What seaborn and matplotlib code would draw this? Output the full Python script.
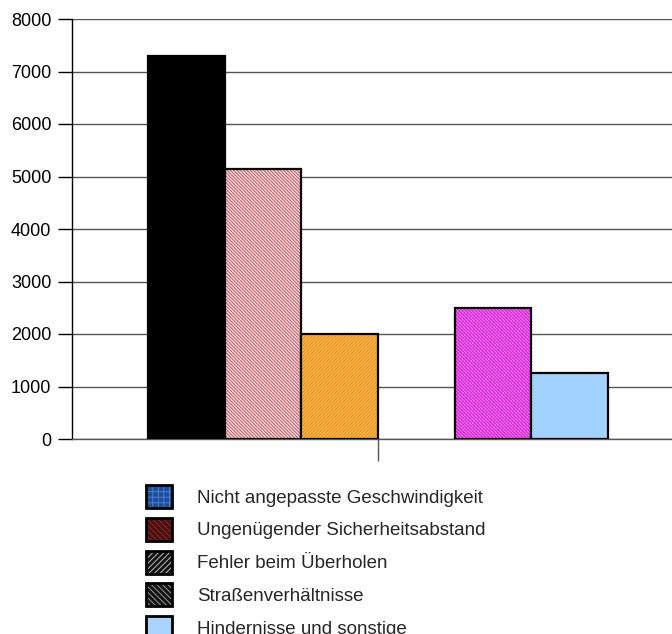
import matplotlib
matplotlib.use('Agg')
import matplotlib.pyplot as plt
import seaborn as sns
import pandas as pd
from matplotlib.patches import Patch
from matplotlib.colors import to_rgba

# Daten
balken = ['A1', 'A2', 'A3', 'B1', 'B2']
werte = [7300, 5150, 2000, 2500, 1260]
# Reihenfolge der Kategorien-Plätze (leere Plätze als Abstand)
plaetze = ['_l', 'A1', 'A2', 'A3', '_m', 'B1', 'B2', '_r']
legenden_text = ['Nicht angepasste Geschwindigkeit',
                 'Ungenügender Sicherheitsabstand',
                 'Fehler beim Überholen',
                 'Straßenverhältnisse',
                 'Hindernisse und sonstige']

# Stile
farben = {'A1': '#000000', 'A2': '#f6dada', 'A3': '#ee9426', 'B1': '#d828d8', 'B2': '#a2d2ff'}
schraffur = {'A1': None, 'A2': '\\' * 10, 'A3': '/' * 10, 'B1': '\\' * 10, 'B2': None}
schraffur_farbe = {'A2': '#c05868', 'A3': '#f7c255', 'B1': '#f27af2'}
leg_stil = [('#1f4e99', '+++', '#4a7cd0'),
            ('#4a0f0f', '\\' * 6, '#8a2a2a'),
            ('#111111', '/' * 6, '#bbbbbb'),
            ('#111111', '\\' * 6, '#999999'),
            ('#a8d4ff', None, None)]

sns.set_theme(style='white')
plt.rcParams['font.family'] = ['Liberation Sans', 'DejaVu Sans']
plt.rcParams['hatch.linewidth'] = 0.7


def set_hatch_color(p, c):
    if hasattr(p, 'set_hatchcolor'):
        p.set_hatchcolor(c)
    else:
        p._hatch_color = to_rgba(c)
    p.stale = True


fig = plt.figure(figsize=(6.72, 6.34), dpi=100)
ax = fig.add_axes([71.5 / 672, 1 - 439 / 634, 600.5 / 672, 420 / 634])

df = pd.DataFrame({'Balken': balken, 'Anzahl': werte})
sns.barplot(data=df, x='Balken', y='Anzahl', hue='Balken', order=plaetze,
            hue_order=balken, palette=farben, saturation=1, width=1.0,
            errorbar=None, edgecolor='black', linewidth=1.6, legend=False,
            ax=ax, zorder=3)

for p, key in zip(ax.patches, balken):
    if schraffur[key]:
        p.set_hatch(schraffur[key])
        set_hatch_color(p, schraffur_farbe[key])

ax.set_xlim(-0.5, -0.5 + 600.5 / 76.6)
ax.set_ylim(0, 8000)
ax.set_yticks(range(0, 8001, 1000))
ax.yaxis.grid(True, color='#555555', linewidth=1)
ax.xaxis.grid(False)
ax.set_axisbelow(True)
ax.set_xticks([])
ax.set_xticks([3.5], minor=True)
ax.tick_params(axis='x', which='minor', bottom=True, length=16, width=1,
               color='#555555', direction='out', labelbottom=False)
ax.tick_params(axis='y', left=True, length=10, width=1, pad=4.5,
               labelsize=13, color='black', labelcolor='black', direction='out')
ax.set_xlabel('')
ax.set_ylabel('')
for s in ['top', 'right']:
    ax.spines[s].set_visible(False)
ax.spines['left'].set_color('black')
ax.spines['left'].set_linewidth(1)
ax.spines['bottom'].set_color('#555555')
ax.spines['bottom'].set_linewidth(1)

handles = []
for fc, h, hc in leg_stil:
    handles.append(Patch(facecolor=fc, edgecolor='black', linewidth=2, hatch=h))
leg = fig.legend(handles, legenden_text, loc='upper left',
                 bbox_to_anchor=(146 / 672, 1 - 485 / 634), frameon=False,
                 borderpad=0, borderaxespad=0, handlelength=1.4,
                 handleheight=1.5, handletextpad=1.33, labelspacing=0.53,
                 fontsize=13.5)
for p, (fc, h, hc) in zip(leg.get_patches(), leg_stil):
    if h:
        set_hatch_color(p, hc)

fig.savefig('out.png', dpi=100)
